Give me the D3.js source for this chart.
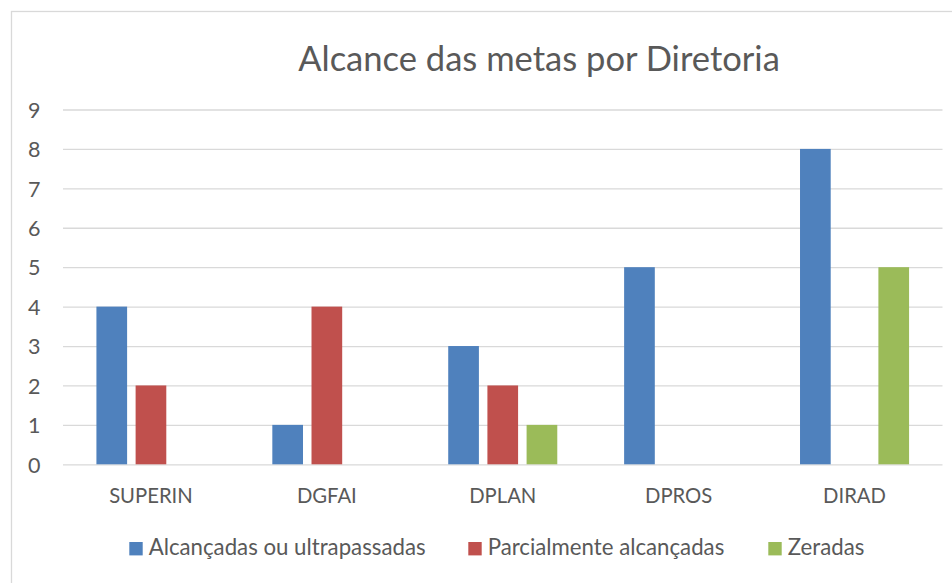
<!DOCTYPE html>
<html>
<head>
<meta charset="utf-8">
<script src="https://cdn.jsdelivr.net/npm/d3@7"></script>
<style>
  html, body { margin: 0; padding: 0; background: #fff; }
  svg { display: block; }
  text { font-family: Lato, "Open Sans", "DejaVu Sans", sans-serif; fill: #595959; }
</style>
</head>
<body>
<svg id="chart" width="952" height="583"></svg>
<script>
const title = "Alcance das metas por Diretoria";
const categories = ["SUPERIN", "DGFAI", "DPLAN", "DPROS", "DIRAD"];
const seriesNames = ["Alcançadas ou ultrapassadas", "Parcialmente alcançadas", "Zeradas"];
const alcancadas = [4, 1, 3, 5, 8];
const parcialmente = [2, 4, 2, 0, 0];
const zeradas = [0, 0, 1, 0, 5];
const yTicks = [0, 1, 2, 3, 4, 5, 6, 7, 8, 9];
const colors = ["#4F81BD", "#C0504D", "#9BBB59"];

const seriesValues = [alcancadas, parcialmente, zeradas];
const svg = d3.select("#chart");
const W = 952, H = 583;

// chart border
svg.append("rect")
  .attr("x", 11.5).attr("y", 11.5)
  .attr("width", W + 20).attr("height", H + 20)
  .attr("fill", "#fff").attr("stroke", "#D9D9D9").attr("stroke-width", 1.3);

const plot = { left: 63, right: 942.5, top: 109.5, bottom: 464.3 };

const y = d3.scaleLinear().domain([0, 9]).range([plot.bottom, plot.top]);
const x0 = d3.scaleBand().domain(categories).range([plot.left, plot.right]).padding(0);
const groupW = x0.bandwidth() * 0.62;
const x1 = d3.scaleBand().domain(seriesNames)
  .range([(x0.bandwidth() - groupW) / 2, (x0.bandwidth() + groupW) / 2])
  .paddingInner(0.217).paddingOuter(0);

function fitSize(sel, targetWidth) {
  sel.style("font-size", "20px");
  const w = sel.node().getComputedTextLength();
  const s = 20 * targetWidth / w;
  sel.style("font-size", s + "px");
  return s;
}

// gridlines via axis
const yAxis = d3.axisLeft(y).tickValues(yTicks).tickSize(-(plot.right - plot.left)).tickPadding(22)
  .tickFormat(d3.format("d"));
const gy = svg.append("g").attr("transform", `translate(${plot.left},0)`).call(yAxis);
gy.select(".domain").remove();
gy.selectAll(".tick line").attr("stroke", "#D9D9D9").attr("stroke-width", 1.3);
gy.selectAll(".tick text")
  .attr("x", 40.5 - plot.left).attr("dy", "0.36em")
  .attr("text-anchor", "end")
  .style("font-family", "Lato, 'Open Sans', sans-serif")
  .style("font-size", "21.5px").attr("fill", "#595959");

// bars
const groups = svg.append("g").selectAll("g")
  .data(categories).join("g")
  .attr("transform", d => `translate(${x0(d)},0)`);
groups.selectAll("rect")
  .data((c, ci) => seriesNames.map((s, si) => ({ s, si, v: seriesValues[si][ci] })))
  .join("rect")
  .filter(d => d.v > 0)
  .attr("x", d => x1(d.s))
  .attr("width", x1.bandwidth())
  .attr("y", d => y(d.v))
  .attr("height", d => y(0) - y(d.v))
  .attr("fill", d => colors[d.si]);

// category axis labels
const catLabels = svg.append("g").selectAll("text")
  .data(categories).join("text")
  .attr("x", d => x0(d) + x0.bandwidth() / 2)
  .attr("y", 503.3)
  .attr("text-anchor", "middle")
  .text(d => d);
const catSize = fitSize(catLabels.filter((d, i) => i === 0), 83.7);
catLabels.style("font-size", catSize + "px");

// title
const t = svg.append("text")
  .attr("x", 539).attr("y", 70.5)
  .attr("text-anchor", "middle")
  .text(title);
fitSize(t, 482);

// legend
const legendX = [129.3, 468.3, 768.3];
const legendW = [277, 238.3, 75];
const lg = svg.append("g").selectAll("g").data(seriesNames).join("g");
lg.append("rect")
  .attr("x", (d, i) => legendX[i]).attr("y", 542)
  .attr("width", 13.4).attr("height", 13.4)
  .attr("fill", (d, i) => colors[i]);
const lt = lg.append("text")
  .attr("x", (d, i) => legendX[i] + 19.4).attr("y", 555.2)
  .text(d => d);
const legSize = fitSize(lt.filter((d, i) => i === 0), legendW[0]);
lt.style("font-size", legSize + "px");
</script>
</body>
</html>
